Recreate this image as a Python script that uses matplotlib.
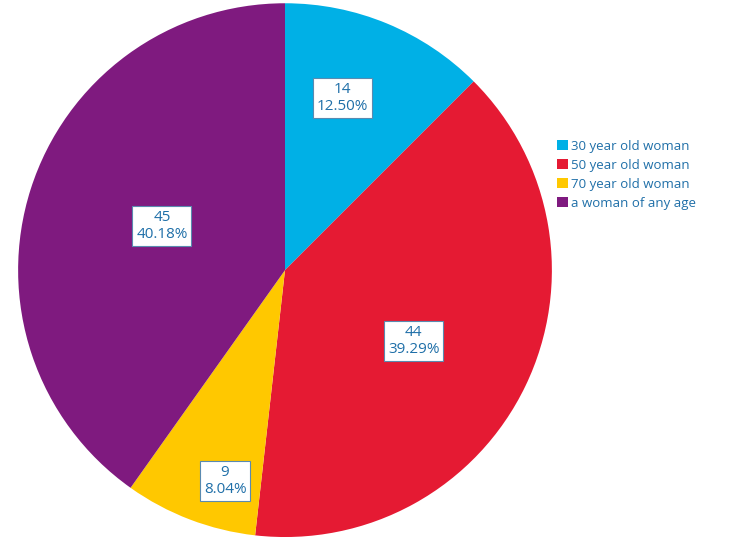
import numpy as np
import matplotlib.pyplot as plt

plt.rcParams['font.family'] = ['Open Sans', 'DejaVu Sans']

labels = ['30 year old woman', '50 year old woman', '70 year old woman', 'a woman of any age']
counts = [14, 44, 9, 45]
colors = ['#00b0e6', '#e51a33', '#ffc800', '#7f1a7f']
# label placement: fraction of radius and angle nudge from slice middle (degrees)
label_r = [0.68, 0.55, 0.82, 0.49]
label_nudge = [4, -3, 5, -2]
text_color = '#1f6fa8'

fig = plt.figure(figsize=(7.5, 5.43), dpi=100)
ax = fig.add_axes([0.024, 0.011, 0.712, 0.983])
wedges, _ = ax.pie(counts, colors=colors, startangle=90, counterclock=False,
                   radius=1, wedgeprops=dict(linewidth=0))
ax.set_xlim(-1, 1)
ax.set_ylim(-1, 1)
ax.set_aspect('equal')

total = sum(counts)
for w, c, r, d in zip(wedges, counts, label_r, label_nudge):
    mid = np.deg2rad((w.theta1 + w.theta2) / 2 + d)
    ax.text(r * np.cos(mid), r * np.sin(mid), f'{c}\n{c / total * 100:.2f}%',
            ha='center', va='center', fontsize=11, color=text_color, linespacing=1.2,
            bbox=dict(boxstyle='square,pad=0.25', fc='white', ec='#5a8ab0', lw=0.8))

fig.legend(wedges, labels, loc='upper left', bbox_to_anchor=(0.736, 0.752),
           frameon=False, fontsize=9.5, labelcolor=text_color, handlelength=0.8,
           handleheight=0.8, handletextpad=0.25, labelspacing=0.45, borderaxespad=0)

fig.savefig('out.png', dpi=100)
